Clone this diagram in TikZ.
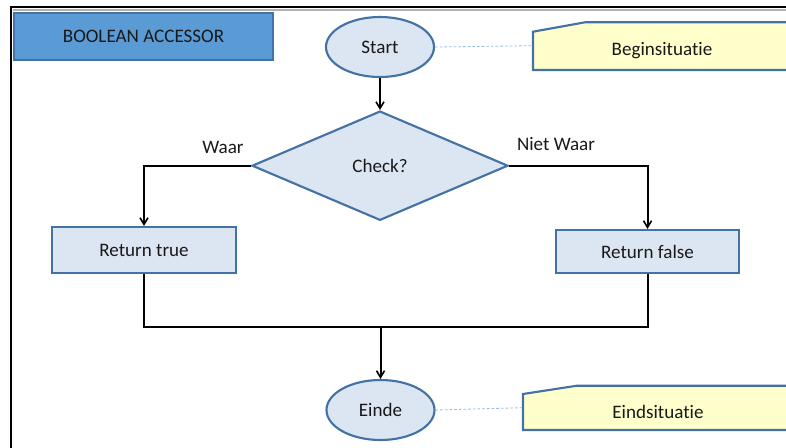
\documentclass[tikz,border=0pt]{standalone}
\usepackage{fontspec}
\setmainfont{Carlito}[Ligatures=NoCommon]
\usetikzlibrary{shapes.geometric,arrows.meta}
\definecolor{edgeblue}{RGB}{68,114,164}
\definecolor{titlefill}{RGB}{91,155,213}
\definecolor{paleblue}{RGB}{220,230,242}
\definecolor{paleyellow}{RGB}{255,255,204}
\definecolor{linkblue}{RGB}{150,190,228}
\tikzset{
  txt/.style={font=\fontsize{14.3}{17}\selectfont, text=black!90},
  titlebox/.style={txt, draw=edgeblue, fill=titlefill, line width=1.6pt, minimum width=194pt, minimum height=35pt, inner sep=0pt},
  terminal/.style={txt, ellipse, draw=edgeblue, fill=paleblue, line width=1.6pt, minimum width=81pt, minimum height=45pt, inner sep=0pt},
  decision/.style={txt, diamond, draw=edgeblue, fill=paleblue, line width=1.6pt, minimum width=192pt, minimum height=82pt, inner sep=0pt},
  process/.style={txt, draw=edgeblue, fill=paleblue, line width=1.6pt, inner sep=0pt},
  calloutshape/.style={draw=edgeblue, fill=paleyellow, line width=1.6pt},
  flow/.style={line width=1.5pt, black},
  flowarrow/.style={flow, -{Straight Barb[length=5pt,width=6pt,line width=1.2pt]}},
  note/.style={linkblue, dashed, dash pattern=on 2pt off 1.5pt, line width=0.6pt},
}
\begin{document}
\begin{tikzpicture}[x=0.75pt,y=-0.75pt]
\useasboundingbox (0,0) rectangle (786,447);
\fill[white] (0,0) rectangle (786,447);
\begin{scope}
\clip (0,0) rectangle (786,447);

% page frame with a soft shadow
\draw[gray!60, line width=1.5pt] (13,9.5) -- (800,9.5);
\draw[black, line width=2pt] (11,460) -- (11,7) -- (800,7);

% title
\node[titlebox] (title) at (143.5,36.5) {BOOLEAN ACCESSOR};

% annotations on the right
\draw[calloutshape] (533,70) -- (533,31.7) -- (585,22.3) -- (820,22.3) -- (820,70) -- cycle;
\node[txt] (begin) at (662,50.7) {Beginsituatie};
\coordinate (beginedge) at (533,45.7);

\draw[calloutshape] (523,430) -- (523,394) -- (577,385.7) -- (820,385.7) -- (820,430) -- cycle;
\node[txt] (eind) at (658,411.5) {Eindsituatie};
\coordinate (eindedge) at (523,407.7);

% flow nodes
\node[terminal] (start) at (380,47) {Start};
\node[decision] (check) at (380,165.7) {Check?};
\node[process, minimum width=138pt, minimum height=34.5pt] (rtrue) at (144,250) {Return true};
\node[process, minimum width=137.25pt, minimum height=32.25pt] (rfalse) at (647.5,251.5) {Return false};
\node[terminal] (einde) at (380.5,410) {Einde};

% branch labels
\node[txt] (waar) at (223,147.5) {Waar};
\node[txt] (nietwaar) at (556,144.5) {Niet Waar};

% notes
\draw[note] (start.east) -- (beginedge);
\draw[note] (einde.east) -- (eindedge);

% connectors
\draw[flowarrow] (start) -- (check);
\draw[flowarrow] (check.west) -| (rtrue.north);
\draw[flowarrow] (check.east) -| (rfalse.north);
\coordinate (merge) at (380.5,327);
\draw[flow] (rtrue.south) |- (merge) -| (rfalse.south);
\draw[flowarrow] (merge) -- (einde.north);
\end{scope}
\end{tikzpicture}
\end{document}
